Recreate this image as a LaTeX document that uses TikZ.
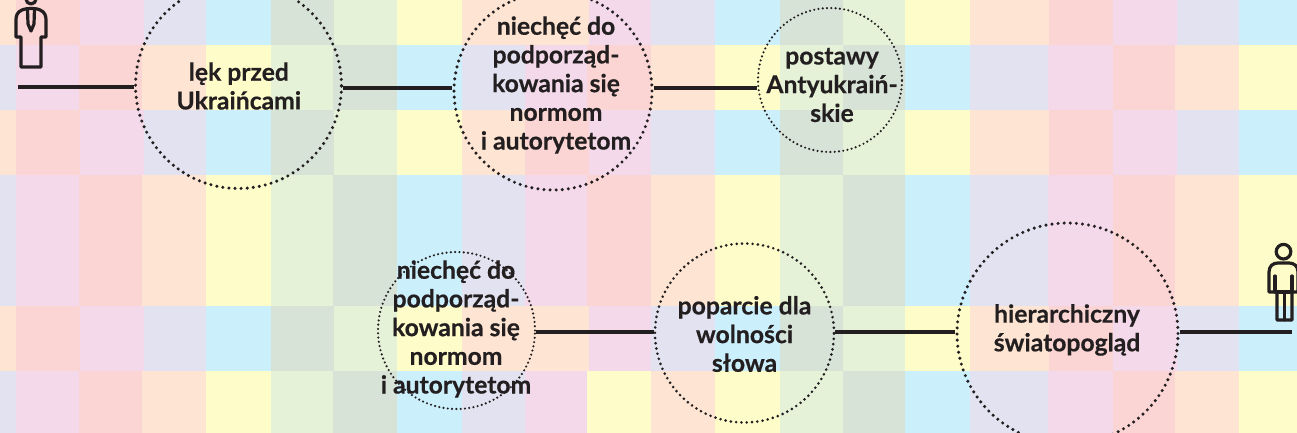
\documentclass[tikz,border=0pt]{standalone}
\usepackage{fontspec}
\setmainfont{Lato}[BoldFeatures={FakeBold=0.5}]
\definecolor{cC}{HTML}{CCEFFC}
\definecolor{cY}{HTML}{FEFCC9}
\definecolor{cG}{HTML}{E6F2D8}
\definecolor{cD}{HTML}{D8E3D8}
\definecolor{cB}{HTML}{E3E2F0}
\definecolor{cP}{HTML}{F3D9E9}
\definecolor{cR}{HTML}{FBD5D3}
\definecolor{cO}{HTML}{FEE4D2}
\definecolor{ink}{HTML}{231F20}
\newcommand\bandrow[3]{\foreach \xa/\xb/\cc in #3 {\fill[fill=\cc] (\xa,#1) rectangle (\xb,#2);}}
\tikzset{
  x=1pt,y=-1pt,
  bubble/.style={circle,draw=ink,inner sep=0pt,line cap=round},
  bigdots/.style={bubble,line width=3.4pt,dash pattern=on 0pt off 6.1pt},
  middots/.style={bubble,line width=2.9pt,dash pattern=on 0pt off 5.3pt},
  smalldots/.style={bubble,line width=2.4pt,dash pattern=on 0pt off 4.3pt},
  caption/.style={text=ink,align=center,inner sep=0pt,font=\fontsize{24.7}{28.7}\selectfont\bfseries},
  link/.style={draw=ink,line width=3.2pt},
  figure/.style={draw=ink,line width=3.2pt,line join=round,line cap=round},
}
\begin{document}
\begin{tikzpicture}
\clip (0,0) rectangle (1297,433);
\def\rowA{0/16/cO,16/80/cR,80/144/cP,144/206/cB,206/271/cC,271/334/cD,334/397/cG,397/462/cY,462/589/cO,589/651/cP,651/715/cB,715/780/cC,780/843/cD,843/905/cG,905/970/cY,970/1049/cO,1049/1113/cR,1113/1177/cP,1177/1239/cB,1239/1297/cC}
\def\rowB{0/16/cB,16/79/cP,79/142/cR,142/206/cO,206/271/cY,271/333/cG,333/397/cD,397/462/cC,462/525/cB,525/587/cP,587/651/cR,651/715/cO,715/780/cY,780/843/cG,843/905/cD,905/970/cC,970/1048/cB,1048/1113/cP,1113/1175/cR,1175/1239/cO,1239/1297/cY}
\def\rowC{0/16/cO,16/80/cR,80/144/cP,144/206/cB,206/271/cC,271/334/cD,334/397/cG,397/462/cY,462/525/cO,525/589/cR,589/651/cP,651/715/cB,715/780/cC,780/843/cD,843/905/cG,905/970/cY,970/1049/cO,1049/1113/cR,1113/1177/cP,1177/1239/cB,1239/1297/cC}
\def\rowF{0/16/cB,16/79/cP,79/142/cR,142/206/cO,206/271/cY,271/333/cG,333/397/cD,397/462/cC,462/525/cB,525/587/cP,587/651/cY,651/715/cO,715/780/cY,780/843/cG,843/905/cD,905/970/cC,970/1048/cB,1048/1113/cP,1113/1175/cR,1175/1239/cO,1239/1297/cY}
\bandrow{0}{45}{\rowA}
\bandrow{45}{110}{\rowB}
\bandrow{110}{175}{\rowC}
\bandrow{175}{306}{\rowB}
\bandrow{306}{371}{\rowA}
\bandrow{371}{433}{\rowF}

% bubbles
\node[bigdots,minimum size=206pt] (c1) at (238.5,85.5) {};
\node[bigdots,minimum size=198pt] (c2) at (553,91) {};
\node[smalldots,minimum size=144pt] (c3) at (830,80) {};
\node[smalldots,minimum size=157pt] (c4) at (456.5,330.5) {};
\node[middots,minimum size=179pt] (c5) at (744.5,333) {};
\node[bigdots,minimum size=221pt] (c6) at (1067.5,333.5) {};

% captions
\node[caption] (t1) at (238.8,86) {lęk przed\\Ukraińcami};
\node[caption] (t2) at (556,85) {niechęć do\\podporząd-\\kowania się\\normom\\i autorytetom};
\node[caption] (t3) at (832,85) {postawy\\Antyukraiń-\\skie};
\node[caption] (t4) at (456,329) {niechęć do\\podporząd-\\kowania się\\normom\\i autorytetom};
\node[caption] (t5) at (744.5,334) {poparcie dla\\wolności\\słowa};
\node[caption] (t6) at (1067,330) {hierarchiczny\\światopogląd};

% free ends of the outer connectors and heights of the inner ones
\coordinate (p1) at (18,87);
\coordinate (p2) at (1292,332);
\coordinate (j1) at (0,88);
\coordinate (j2) at (0,332);

% connectors
\draw[link] (p1) -- (c1.west |- p1);
\draw[link] (c1.east |- j1) -- (c2.west |- j1);
\draw[link] (c2.east |- j1) -- (c3.west |- j1);
\draw[link] (c4.east |- j2) -- (c5.west |- j2);
\draw[link] (c5.east |- j2) -- (c6.west |- j2);
\draw[link] (c6.east |- p2) -- (p2);

% figure top left (suit)
\draw[figure] (31,-1) circle (5);
\draw[figure] (22,10) .. controls (17,12) and (16,16) .. (16,20) -- (16,37) -- (21,37) -- (21,67) -- (41,67) -- (41,37) -- (46,37) -- (46,20) .. controls (46,16) and (45,12) .. (40,10) .. controls (37,8) and (26,8) .. (22,10) -- cycle;
\draw[figure] (27.5,9) -- (28,24) -- (31,31) -- (34,24) -- (34.5,9);

% figure bottom right
\draw[figure] (1283.5,251.7) circle (7.3);
\draw[figure] (1269,292) -- (1269,272) .. controls (1269,266) and (1273,263) .. (1278,263) -- (1289,263) .. controls (1294,263) and (1298,266) .. (1298,272) -- (1298,292) -- (1292,292) -- (1292,320) -- (1277,320) -- (1277,292) -- cycle;
\draw[figure] (1275,276) -- (1275,292);
\draw[figure] (1292,276) -- (1292,292);
\draw[figure] (1284.5,292) -- (1284.5,320);
\draw[figure] (1277,292) -- (1292,292);
\end{tikzpicture}
\end{document}
